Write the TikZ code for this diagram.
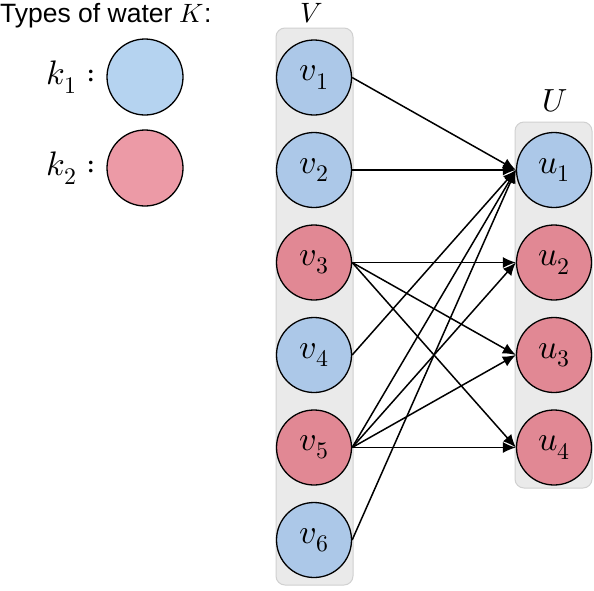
\documentclass[tikz,border=0pt]{standalone}
\usepackage{unicode-math}
\setmathfont{Latin Modern Math}
\newfontfamily\titlefont{Liberation Sans}
\usetikzlibrary{arrows.meta}
\definecolor{cblue}{RGB}{172,200,232}
\definecolor{cred}{RGB}{225,136,148}
\definecolor{lblue}{RGB}{181,211,240}
\definecolor{lred}{RGB}{236,154,166}
\definecolor{boxfill}{RGB}{234,234,234}
\definecolor{boxdraw}{RGB}{208,208,208}
\begin{document}
\begin{tikzpicture}[x=1pt,y=-1pt,
  vert/.style={circle, draw=black, line width=1.3pt, minimum size=75pt, inner sep=0pt,
    font=\fontsize{34}{34}\selectfont},
  bluev/.style={vert, fill=cblue},
  redv/.style={vert, fill=cred},
  groupbox/.style={rectangle, rounded corners=9pt, fill=boxfill, draw=boxdraw, line width=1pt,
    minimum width=77pt, inner sep=0pt},
  edge/.style={line width=1.5pt, -{Latex[length=13pt,width=11pt]}},
  biglab/.style={font=\fontsize{34}{34}\selectfont}
]
\useasboundingbox (0,0) rectangle (594,590);

% legend
\node[anchor=base west, inner sep=0pt, font=\titlefont\fontsize{26.5}{26.5}\selectfont] (title) at (0,22) {Types of water $K$:};
\node[vert, fill=lblue, minimum size=76pt] (leg1) at (145,77) {};
\node[vert, fill=lred, minimum size=76pt] (leg2) at (145,168) {};
\node[anchor=east, inner sep=0pt, biglab] (k1lab) at (96,77) {$k_1 :$};
\node[anchor=east, inner sep=0pt, biglab] (k2lab) at (96,168) {$k_2 :$};

% group boxes
\node[groupbox, minimum height=557pt] (Vbox) at (314.5,306.5) {};
\node[groupbox, minimum height=366pt] (Ubox) at (553.5,305) {};
\node[font=\fontsize{28}{28}\selectfont] (Vlab) at (312,13) {$V$};
\node[font=\fontsize{32}{32}\selectfont] (Ulab) at (555,101) {$U$};

% V nodes
\node[bluev] (v1) at (314,77.5) {$v_1$};
\node[bluev] (v2) at (314,170) {$v_2$};
\node[redv]  (v3) at (314,262.5) {$v_3$};
\node[bluev] (v4) at (314,355) {$v_4$};
\node[redv]  (v5) at (314,447.5) {$v_5$};
\node[bluev] (v6) at (314,540) {$v_6$};

% U nodes
\node[bluev] (u1) at (554,170) {$u_1$};
\node[redv]  (u2) at (554,262.5) {$u_2$};
\node[redv]  (u3) at (554,355) {$u_3$};
\node[redv]  (u4) at (554,447.5) {$u_4$};

% edges
\draw[edge] (v1.east) -- (u1.west);
\draw[edge] (v2.east) -- (u1.west);
\draw[edge] (v3.east) -- (u2.west);
\draw[edge] (v3.east) -- (u3.west);
\draw[edge] (v3.east) -- (u4.west);
\draw[edge] (v4.east) -- (u1.west);
\draw[edge] (v5.east) -- (u1.west);
\draw[edge] (v5.east) -- (u2.west);
\draw[edge] (v5.east) -- (u3.west);
\draw[edge] (v5.east) -- (u4.west);
\draw[edge] (v6.east) -- (u1.west);
\end{tikzpicture}
\end{document}
